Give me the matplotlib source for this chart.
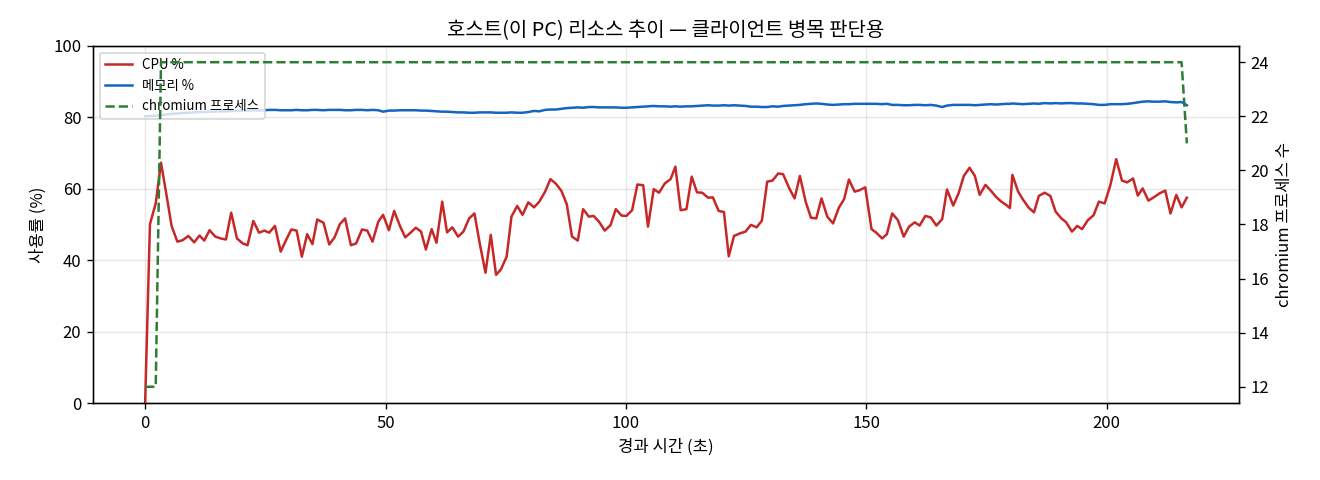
import matplotlib
matplotlib.use("Agg")
import matplotlib.pyplot as plt

plt.rcParams['font.family'] = ['Noto Sans CJK KR', 'DejaVu Sans']
plt.rcParams['axes.unicode_minus'] = False

# elapsed time of each sample (sec)
elapsed = [
    0.0, 1.0, 2.2, 3.3, 4.5, 5.5, 6.7, 7.8, 9.0, 10.2,
    11.3, 12.3, 13.4, 14.6, 15.7, 16.8, 17.9, 19.1, 20.3, 21.3,
    22.5, 23.7, 24.8, 25.8, 27.0, 28.2, 29.3, 30.4, 31.5, 32.6,
    33.7, 34.8, 35.8, 37.1, 38.3, 39.4, 40.5, 41.6, 42.8, 43.9,
    45.1, 46.2, 47.3, 48.5, 49.5, 50.7, 51.8, 53.0, 54.1, 55.2,
    56.3, 57.4, 58.4, 59.6, 60.6, 61.8, 62.8, 63.9, 65.1, 66.2,
    67.4, 68.5, 69.6, 70.8, 71.9, 73.0, 74.0, 75.2, 76.2, 77.4,
    78.5, 79.7, 80.9, 82.0, 83.2, 84.3, 85.4, 86.6, 87.7, 88.8,
    90.0, 91.1, 92.3, 93.3, 94.4, 95.6, 96.8, 97.9, 99.1, 100.1,
    101.3, 102.4, 103.6, 104.6, 105.8, 106.9, 108.1, 109.3, 110.3, 111.4,
    112.6, 113.7, 114.8, 115.9, 117.1, 118.1, 119.3, 120.4, 121.4, 122.5,
    123.7, 124.9, 126.0, 127.2, 128.3, 129.4, 130.5, 131.7, 132.7, 134.0,
    135.1, 136.2, 137.4, 138.5, 139.6, 140.7, 141.9, 143.1, 144.3, 145.4,
    146.4, 147.6, 148.6, 149.8, 151.1, 152.1, 153.3, 154.3, 155.4, 156.6,
    157.8, 158.9, 160.1, 161.1, 162.3, 163.4, 164.6, 165.8, 166.8, 168.1,
    169.2, 170.3, 171.5, 172.6, 173.6, 174.8, 175.9, 177.1, 178.1, 179.1,
    179.9, 180.4, 181.6, 182.6, 183.8, 184.9, 185.9, 187.1, 188.3, 189.4,
    190.6, 191.6, 192.8, 193.9, 194.9, 196.1, 197.3, 198.4, 199.6, 200.8,
    202.0, 203.2, 204.3, 205.5, 206.5, 207.5, 208.7, 209.8, 211.0, 212.2,
    213.3, 214.5, 215.6, 216.7,
]

cpu = [
    0.0, 50.1, 55.9, 67.3, 57.8, 49.6, 45.2, 45.6, 46.8, 45.0,
    46.9, 45.5, 48.4, 46.6, 46.1, 45.8, 53.3, 46.1, 44.7, 44.2,
    51.0, 47.7, 48.3, 47.7, 49.6, 42.4, 45.6, 48.6, 48.3, 41.0,
    47.3, 44.5, 51.4, 50.5, 44.4, 46.4, 50.1, 51.7, 44.2, 44.7,
    48.6, 48.3, 45.2, 50.8, 52.7, 48.4, 53.8, 49.6, 46.4, 47.7,
    49.1, 48.0, 43.0, 48.7, 44.9, 56.4, 47.8, 49.2, 46.6, 48.0,
    51.7, 53.1, 44.7, 36.5, 47.1, 35.9, 37.4, 41.0, 52.2, 55.2,
    52.7, 56.2, 54.8, 56.4, 59.2, 62.7, 61.5, 59.4, 55.7, 46.6,
    45.5, 54.3, 52.2, 52.4, 50.8, 48.3, 49.8, 54.3, 52.5, 52.4,
    54.0, 61.2, 61.0, 49.4, 59.9, 58.9, 61.5, 62.7, 66.2, 54.0,
    54.3, 63.4, 59.0, 58.9, 57.5, 57.6, 53.8, 53.5, 41.1, 46.8,
    47.5, 48.0, 49.9, 49.2, 51.1, 62.0, 62.3, 64.3, 64.1, 60.1,
    57.3, 63.6, 56.4, 51.9, 51.7, 57.3, 52.2, 50.3, 54.7, 57.1,
    62.6, 59.2, 59.6, 60.4, 48.7, 47.7, 46.1, 47.3, 53.1, 51.2,
    46.6, 49.4, 50.6, 49.7, 52.4, 52.0, 49.7, 51.5, 59.8, 55.3,
    58.7, 63.6, 65.9, 63.6, 58.3, 61.1, 59.5, 57.6, 56.4, 55.5,
    54.6, 63.9, 59.2, 57.0, 54.7, 53.4, 58.0, 58.9, 58.0, 53.6,
    51.7, 50.6, 48.0, 49.6, 48.7, 51.2, 52.6, 56.4, 55.9, 61.1,
    68.3, 62.3, 61.8, 62.9, 58.1, 60.1, 56.7, 57.6, 58.7, 59.5,
    53.1, 58.3, 54.8, 57.5,
]

memory = [
    80.3, 80.4, 80.5, 80.6, 80.8, 81.0, 81.1, 81.2, 81.3, 81.4,
    81.5, 81.5, 81.6, 81.6, 81.7, 81.7, 81.8, 81.8, 81.9, 81.9,
    82.0, 81.9, 82.0, 82.1, 82.1, 82.0, 82.0, 82.0, 82.1, 82.0,
    82.0, 82.1, 82.1, 82.0, 82.1, 82.1, 82.1, 82.0, 82.0, 82.1,
    82.1, 82.0, 82.1, 82.0, 81.6, 81.9, 81.9, 82.0, 82.0, 82.0,
    82.0, 81.9, 81.9, 81.8, 81.7, 81.6, 81.6, 81.5, 81.4, 81.4,
    81.3, 81.3, 81.4, 81.4, 81.4, 81.3, 81.3, 81.3, 81.4, 81.3,
    81.3, 81.5, 81.8, 81.7, 82.1, 82.2, 82.2, 82.4, 82.6, 82.7,
    82.8, 82.7, 82.9, 82.9, 82.8, 82.8, 82.8, 82.8, 82.7, 82.7,
    82.8, 82.9, 83.0, 83.1, 83.2, 83.1, 83.1, 83.0, 83.1, 83.0,
    83.1, 83.1, 83.2, 83.3, 83.4, 83.3, 83.3, 83.4, 83.3, 83.4,
    83.3, 83.2, 83.0, 83.0, 82.9, 82.9, 83.1, 83.0, 83.2, 83.3,
    83.4, 83.5, 83.7, 83.8, 83.9, 83.8, 83.6, 83.5, 83.6, 83.7,
    83.7, 83.8, 83.8, 83.8, 83.8, 83.8, 83.7, 83.8, 83.5, 83.5,
    83.4, 83.4, 83.5, 83.5, 83.4, 83.5, 83.3, 82.9, 83.3, 83.5,
    83.5, 83.5, 83.5, 83.4, 83.5, 83.6, 83.7, 83.6, 83.7, 83.8,
    83.8, 83.9, 83.8, 83.7, 83.8, 83.9, 83.8, 84.0, 83.9, 84.0,
    83.9, 84.0, 84.0, 83.9, 83.9, 83.8, 83.7, 83.5, 83.5, 83.7,
    83.7, 83.7, 83.8, 84.0, 84.2, 84.4, 84.5, 84.4, 84.4, 84.5,
    84.3, 84.2, 84.3, 83.4,
]

chromium = [12] * 3 + [24] * 190 + [21]

fig, ax = plt.subplots(figsize=(11, 4), dpi=120)
ax2 = ax.twinx()

l1, = ax.plot(elapsed, cpu, color='#c62828', lw=1.5, label='CPU %')
l2, = ax.plot(elapsed, memory, color='#1565c0', lw=1.5, label='메모리 %')
l3, = ax2.plot(elapsed, chromium, color='#2e7d32', lw=1.5, ls='--',
               label='chromium 프로세스')

ax.set_ylim(0, 100)
ax.set_xlabel('경과 시간 (초)')
ax.set_ylabel('사용률 (%)')
ax2.set_ylabel('chromium 프로세스 수')
ax.set_title('호스트(이 PC) 리소스 추이 — 클라이언트 병목 판단용')
ax.grid(True, alpha=0.3)

ax.legend(handles=[l1, l2, l3], loc='upper left', fontsize=8)

plt.subplots_adjust(left=0.0705, right=0.9386, bottom=0.1604, top=0.9042)
plt.savefig('out.png')
